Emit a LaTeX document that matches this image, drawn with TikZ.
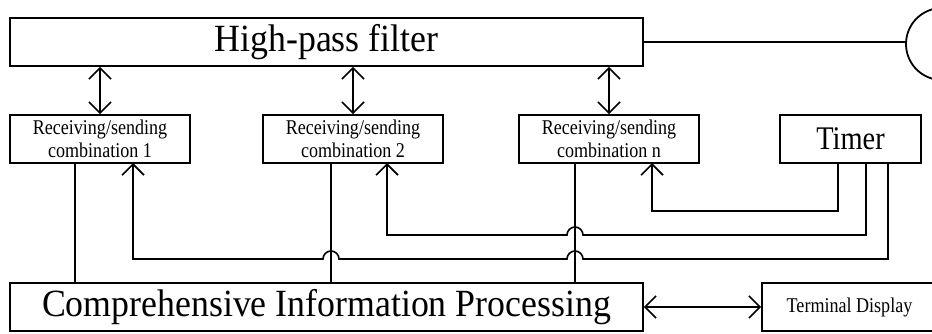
\documentclass[tikz,border=0pt]{standalone}
\usepackage{fontspec}
\setmainfont{Liberation Serif}[FakeStretch=0.93]
\newfontfamily\narrowface{Liberation Serif}[FakeStretch=0.86]
\usetikzlibrary{arrows.meta}
\begin{document}
\begin{tikzpicture}[x=1pt,y=-1pt,line width=1.6pt,
  >={Straight Barb[length=11pt,width=22pt]},
  box/.style={draw,rectangle,inner sep=0pt,align=center,line width=1.8pt},
  bigtext/.style={font=\fontsize{38.5}{44}\selectfont},
  smalltext/.style={font=\narrowface\fontsize{21}{23}\selectfont},
  timertext/.style={font=\narrowface\fontsize{33}{36}\selectfont},
  dbl/.style={<->},
  sig/.style={->}]
\useasboundingbox (0,0) rectangle (932,334);
\clip (0,0) rectangle (932,334);

% boxes
\node[box,bigtext,minimum width=633pt,minimum height=48pt] (hpf) at (326.5,42) {High-pass filter};
\node[box,smalltext,minimum width=180pt,minimum height=48pt] (r1) at (100,139) {Receiving/sending\\combination 1};
\node[box,smalltext,minimum width=180pt,minimum height=48pt] (r2) at (353,139) {Receiving/sending\\combination 2};
\node[box,smalltext,minimum width=180pt,minimum height=48pt] (rn) at (609,139) {Receiving/sending\\combination n};
\node[box,timertext,minimum width=141pt,minimum height=48pt] (timer) at (850.5,139) {Timer};
\node[box,bigtext,minimum width=633pt,minimum height=48pt] (cip) at (326.5,307) {Comprehensive Information Processing};
\node[box,smalltext,minimum width=175pt,minimum height=48pt] (term) at (849.5,307) {Terminal Display};
\node[draw,circle,minimum size=72pt,inner sep=0pt,line width=1.8pt] (ant) at (942,44) {};

% filter to antenna
\draw (hpf.east) -- (hpf.east -| ant.west);

% filter <-> transceivers
\draw[dbl] (r1.north |- hpf.south) -- (r1.north);
\draw[dbl] (r2.north |- hpf.south) -- (r2.north);
\draw[dbl] (rn.north |- hpf.south) -- (rn.north);

% processing <-> terminal
\draw[dbl] (cip.east) -- (term.west);

% transceivers down to processing
\coordinate (v1) at (75,163);
\coordinate (v2) at (331,163);
\coordinate (vn) at (575,163);
\draw (v1) -- (v1 |- cip.north);
\draw (v2) -- (v2 |- cip.north);
\draw (vn) -- (vn |- cip.north);

% timer outputs
\coordinate (t1) at (888,163);
\coordinate (t2) at (866,163);
\coordinate (tn) at (838,163);
\coordinate (a1) at (133,163);
\coordinate (a2) at (387,163);
\coordinate (an) at (652,163);

\draw[sig] (tn) -- (838,211) -- (652,211) -- (an);
\draw[sig] (t2) -- (866,235) -- (583,235) arc[start angle=0,end angle=180,radius=8pt]
  -- (387,235) -- (a2);
\draw[sig] (t1) -- (888,259) -- (583,259) arc[start angle=0,end angle=180,radius=8pt]
  -- (339,259) arc[start angle=0,end angle=180,radius=8pt]
  -- (133,259) -- (a1);
\end{tikzpicture}
\end{document}
